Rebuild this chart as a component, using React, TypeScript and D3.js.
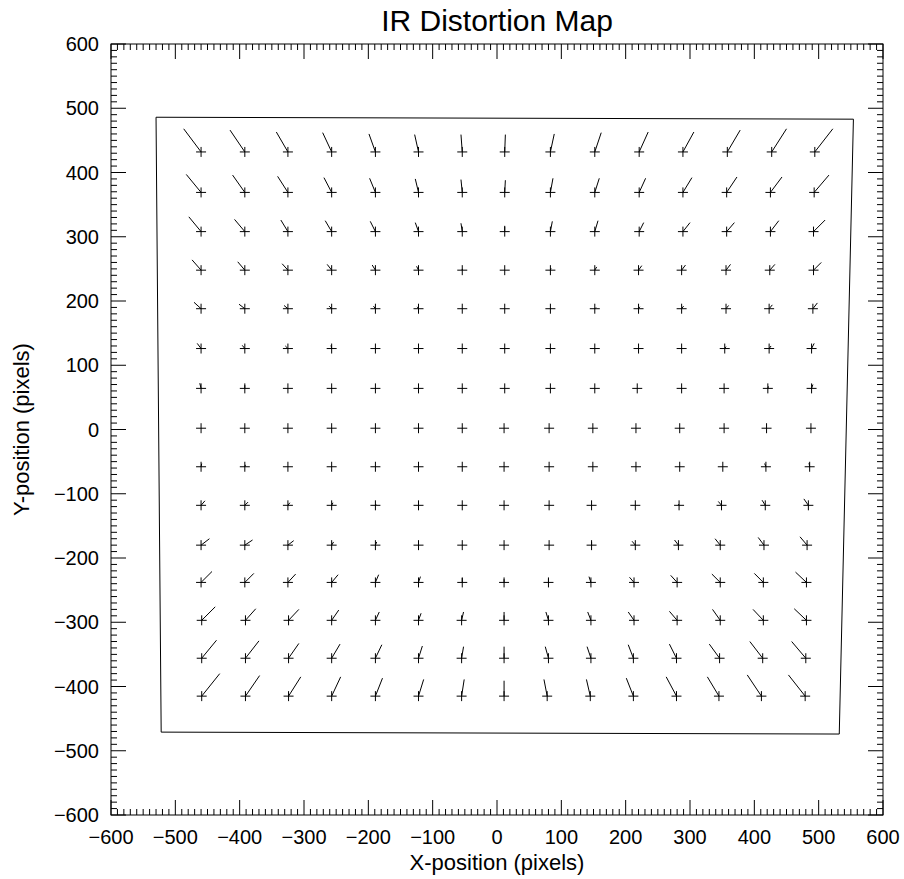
import React from "react";
import * as d3 from "d3";

const TITLE = "IR Distortion Map";
const X_TITLE = "X-position (pixels)";
const Y_TITLE = "Y-position (pixels)";
const X_DOMAIN = [-600, 600];
const Y_DOMAIN = [-600, 600];
const MAJOR_TICKS = [-600, -500, -400, -300, -200, -100, 0, 100, 200, 300, 400, 500, 600];

// Grid rows (data y), top to bottom
const ROW_Y = [432, 369, 308, 248, 188, 126, 64, 2, -58, -118, -180, -238, -297, -356, -415];

// Cross x positions per row (data units)
const L1 = [-460, -392, -325, -257, -189, -122, -54];
const L2 = [-459, -391, -324, -257, -189, -122, -55];
const GRID_X = [
  [...L1, 12, 83, 152, 221, 289, 358, 427, 494],
  [...L1, 12, 83, 152, 221, 289, 357, 425, 493],
  [...L1, 12, 83, 152, 221, 289, 357, 425, 492],
  [...L1, 12, 83, 152, 220, 287, 356, 424, 492],
  [...L1, 12, 83, 152, 220, 287, 356, 423, 491],
  [...L1, 12, 83, 152, 220, 287, 354, 423, 489],
  [...L1, 12, 83, 152, 218, 287, 353, 421, 489],
  [...L1, 11, 81, 149, 216, 284, 353, 419, 488],
  [...L1, 11, 81, 149, 216, 284, 351, 418, 486],
  [...L1, 11, 81, 147, 215, 283, 349, 417, 484],
  [...L1, 11, 81, 147, 215, 282, 347, 415, 482],
  [...L1, 11, 80, 146, 213, 280, 347, 414, 481],
  [...L2, 11, 80, 146, 213, 280, 347, 414, 481],
  [...L2, 11, 80, 146, 212, 279, 346, 413, 480],
  [...L2, 11, 78, 145, 212, 279, 345, 411, 479],
];

// Distortion vectors (data units, magnified)
const VEC_DX = [
  [-27, -23, -18, -14, -10, -6, -2, 1, 6, 10, 14, 17, 20, 23, 28],
  [-23, -19, -16, -12, -9, -5, -2, 1, 4, 7, 10, 14, 16, 18, 23],
  [-19, -16, -11, -10, -8, -5, -2, 0, 3, 5, 7, 11, 12, 13, 18],
  [-14, -11, -9, -7, -5, -3, 0, 0, 1, 3, 5, 6, 7, 8, 12],
  [-11, -9, -6, -4, -3, -2, 0, 0, 0, 2, 2, 3, 4, 5, 7],
  [-6, -4, -4, -1, 0, 0, 0, 0, 0, 0, 0, 0, 2, 3, 4],
  [-2, 0, 0, 0, 0, 0, 0, 0, 0, 0, 0, 0, 0, 1, 2],
  [0, 0, 0, 0, 0, 0, 0, 0, 0, 0, 0, 0, 0, 0, 0],
  [1, 1, 0, 0, 0, 0, 0, 0, 0, 0, 0, 0, 0, -2, -1],
  [6, 5, 3, 2, 1, 0, 0, 0, 0, 0, 0, -1, -5, -5, -7],
  [13, 12, 9, 3, 2, 0, 0, 0, 0, 0, -5, -6, -8, -9, -11],
  [17, 14, 12, 10, 5, 3, 0, 0, 0, -3, -7, -10, -13, -14, -17],
  [21, 16, 16, 11, 6, 4, 3, 0, -4, -5, -9, -12, -12, -16, -19],
  [23, 21, 16, 13, 10, 6, 3, 0, -5, -6, -8, -11, -16, -20, -22],
  [28, 22, 19, 14, 11, 8, 4, 0, -5, -6, -11, -16, -18, -22, -26],
];
const VEC_DY = [
  [36, 34, 31, 30, 28, 27, 27, 27, 28, 30, 31, 31, 34, 36, 36],
  [28, 27, 25, 23, 22, 21, 20, 19, 22, 22, 22, 23, 24, 24, 27],
  [23, 19, 18, 17, 16, 14, 13, 9, 16, 17, 14, 14, 14, 17, 18],
  [16, 13, 10, 9, 8, 6, 2, 0, 3, 5, 7, 8, 9, 9, 12],
  [10, 7, 5, 4, 4, 3, 0, 0, 0, 2, 3, 4, 5, 6, 9],
  [8, 5, 4, 5, 0, 0, 0, 0, 0, 0, 0, 0, 3, 4, 8],
  [8, 5, 0, 0, 0, 0, 0, 0, 0, 0, 0, 0, 0, 3, 6],
  [0, 0, 0, 0, 0, 0, 0, 0, 0, 0, 0, 0, 0, 0, 0],
  [5, 3, 0, 0, 0, 0, 0, 0, 0, 0, 0, 0, 0, 5, 6],
  [7, 5, 4, 4, 2, 0, 0, 0, 0, 0, 0, 2, 6, 8, 10],
  [10, 8, 7, 5, 5, 5, 0, 0, 0, 5, 6, 8, 10, 12, 13],
  [17, 14, 13, 12, 12, 9, 7, 5, 6, 9, 8, 11, 13, 14, 16],
  [21, 18, 17, 16, 13, 11, 13, 13, 13, 13, 13, 14, 17, 17, 18],
  [28, 27, 23, 22, 21, 19, 18, 18, 18, 18, 21, 22, 22, 26, 26],
  [35, 32, 30, 30, 28, 26, 26, 24, 26, 26, 28, 30, 30, 33, 33],
];

// Detector boundary polygon
const BOUND_X = [-530, 554, 532, -522];
const BOUND_Y = [486, 483, -474, -471];

const FONT = "'Liberation Sans', Arial, Helvetica, sans-serif";

export default function App() {
  const W = 904, H = 879;
  const left = 111, right = 883, top = 44, bottom = 815;
  const x = d3.scaleLinear().domain(X_DOMAIN).range([left, right]);
  const y = d3.scaleLinear().domain(Y_DOMAIN).range([bottom, top]);
  const minor = d3.range(X_DOMAIN[0], X_DOMAIN[1] + 1, 10);
  const majLen = 15, minLen = 6;
  const fmt = (v: number) => (v < 0 ? "\u2212" + Math.abs(v) : String(v));
  const cs = 5;

  const poly = BOUND_X.map((bx, i) => [x(bx), y(BOUND_Y[i])] as [number, number]);
  const line = d3.line();

  const marks: React.ReactNode[] = [];
  ROW_Y.forEach((ry, r) => {
    GRID_X[r].forEach((gx, c) => {
      const cx = x(gx), cy = y(ry);
      const ex = x(gx + VEC_DX[r][c]), ey = y(ry + VEC_DY[r][c]);
      marks.push(
        <g key={`${r}-${c}`}>
          <line x1={cx - cs} x2={cx + cs} y1={cy} y2={cy} />
          <line x1={cx} x2={cx} y1={cy - cs} y2={cy + cs} />
          <line x1={cx} y1={cy} x2={ex} y2={ey} />
        </g>
      );
    });
  });

  return (
    <svg width={W} height={H} style={{ position: "absolute", left: 0, top: 0, background: "#fff" }}>
      <rect x={0} y={0} width={W} height={H} fill="#fff" />
      <g stroke="#000" strokeWidth={1} fill="none">
        <rect x={left} y={top} width={right - left} height={bottom - top} />
        {minor.map((v) => {
          const isMaj = v % 100 === 0;
          const L = isMaj ? majLen : minLen;
          return (
            <g key={v}>
              <line x1={x(v)} x2={x(v)} y1={bottom} y2={bottom - L} />
              <line x1={x(v)} x2={x(v)} y1={top} y2={top + L} />
              <line y1={y(v)} y2={y(v)} x1={left} x2={left + L} />
              <line y1={y(v)} y2={y(v)} x1={right} x2={right - L} />
            </g>
          );
        })}
        <path d={line([...poly, poly[0]]) || ""} />
        {marks}
      </g>
      <g fontFamily={FONT} fontSize={20} fill="#000">
        {MAJOR_TICKS.map((v) => (
          <text key={"xt" + v} x={x(v)} y={844} textAnchor="middle">{fmt(v)}</text>
        ))}
        {MAJOR_TICKS.map((v) => (
          <text key={"yt" + v} x={99} y={y(v) + 7} textAnchor="end">{fmt(v)}</text>
        ))}
      </g>
      <g fontFamily={FONT} fontSize={22} fill="#000">
        <text x={(left + right) / 2} y={870} textAnchor="middle">{X_TITLE}</text>
        <text transform={`translate(29,${(top + bottom) / 2}) rotate(-90)`} textAnchor="middle">{Y_TITLE}</text>
      </g>
      <text x={(left + right) / 2} y={31} textAnchor="middle" fontFamily={FONT} fontSize={30} fill="#000">{TITLE}</text>
    </svg>
  );
}
